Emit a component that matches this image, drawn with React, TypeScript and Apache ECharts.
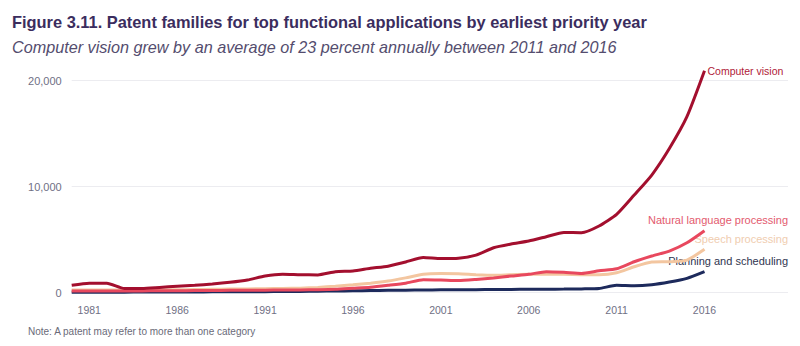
import React, { useEffect, useRef } from "react";
import * as echarts from "echarts";

const years: number[] = [];
for (let y = 1980; y <= 2016; y++) years.push(y);

const computerVision = [700, 900, 900, 400, 400, 500, 600, 700, 820, 980, 1200, 1580, 1750, 1700, 1680, 1980, 2050, 2300, 2500, 2900, 3320, 3220, 3250, 3550, 4240, 4590, 4870, 5280, 5690, 5660, 6290, 7390, 9210, 11100, 13600, 16600, 20930];
const nlp = [150, 150, 160, 160, 170, 180, 190, 200, 210, 220, 230, 240, 250, 260, 280, 320, 420, 520, 700, 900, 1230, 1200, 1150, 1250, 1390, 1575, 1730, 1980, 1920, 1820, 2070, 2260, 2920, 3460, 3930, 4710, 5850];
const speech = [250, 250, 250, 250, 260, 270, 280, 300, 320, 340, 360, 380, 400, 430, 500, 620, 750, 900, 1100, 1400, 1740, 1800, 1780, 1700, 1650, 1700, 1730, 1730, 1730, 1700, 1700, 1880, 2450, 2890, 2920, 3080, 4090];
const planning = [50, 50, 50, 50, 60, 60, 70, 70, 80, 80, 90, 100, 110, 120, 140, 160, 180, 200, 220, 240, 260, 270, 280, 290, 300, 310, 320, 330, 340, 360, 400, 700, 650, 750, 1000, 1350, 1980];

const seriesNames = ["Computer vision", "Natural language processing", "Speech processing", "Planning and scheduling"];
const yTicks = [0, 10000, 20000];

const FONT = "Liberation Sans, Arial, sans-serif";

export default function App() {
  const ref = useRef<HTMLDivElement>(null);
  useEffect(() => {
    if (!ref.current) return;
    const chart = echarts.init(ref.current, null, { renderer: "svg" });
    const pair = (arr: number[]) => arr.map((v, i) => [years[i], v]);
    const mk = (name: string, data: number[], color: string, z: number, extra: any = {}) => ({
      name,
      type: "line",
      data: pair(data),
      showSymbol: false,
      symbol: "none",
      smooth: 0.2,
      clip: false,
      z,
      lineStyle: { color, width: 3 },
      itemStyle: { color },
      ...extra,
    });
    chart.setOption({
      animation: false,
      textStyle: { fontFamily: FONT },
      grid: { left: 71.7, right: 12, top: 80.7, bottom: 53.3 },
      xAxis: {
        type: "value",
        min: 1980,
        max: 2020.75,
        interval: 1,
        axisLine: { show: false },
        axisTick: { show: false },
        splitLine: { show: false },
        axisLabel: {
          showMaxLabel: false,
          margin: 12,
          color: "#707085",
          fontSize: 10.5,
          fontFamily: FONT,
          formatter: (v: number) => ((v - 1981) % 5 === 0 && v <= 2016 ? String(v) : ""),
        },
      },
      yAxis: {
        type: "value",
        min: yTicks[0],
        max: yTicks[yTicks.length - 1],
        interval: 10000,
        axisLine: { show: false },
        axisTick: { show: false },
        splitLine: { lineStyle: { color: "#ececf0", width: 1 } },
        axisLabel: {
          margin: 10,
          color: "#707085",
          fontSize: 11,
          fontFamily: FONT,
          formatter: (v: number) => v.toLocaleString("en-US"),
        },
      },
      series: [
        mk(seriesNames[3], planning, "#1d2a5c", 2),
        mk(seriesNames[2], speech, "#f3c6a0", 3),
        mk(seriesNames[1], nlp, "#e8485e", 4),
        mk(seriesNames[0], computerVision, "#a30f2e", 5, {
          endLabel: {
            show: true,
            formatter: seriesNames[0],
            color: "#b01a38",
            fontSize: 10.5,
            fontFamily: FONT,
            distance: 3,
          },
        }),
      ],
      graphic: [
        {
          type: "text",
          left: 12,
          top: 14,
          style: {
            text: "Figure 3.11. Patent families for top functional applications by earliest priority year",
            fill: "#3b2d5e",
            font: `bold 16.4px ${FONT}`,
          },
        },
        {
          type: "text",
          left: 12,
          top: 39,
          style: {
            text: "Computer vision grew by an average of 23 percent annually between 2011 and 2016",
            fill: "#544d6e",
            font: `italic 16.2px ${FONT}`,
          },
        },
        {
          type: "text",
          right: 12,
          top: 214,
          style: { text: seriesNames[1], fill: "#e35a6e", font: `11px ${FONT}` },
        },
        {
          type: "text",
          right: 12,
          top: 233,
          style: { text: seriesNames[2], fill: "#f0cdb0", font: `11px ${FONT}` },
        },
        {
          type: "text",
          right: 12,
          top: 255,
          style: { text: seriesNames[3], fill: "#2f3550", font: `11px ${FONT}` },
        },
        {
          type: "text",
          left: 28,
          top: 326,
          style: { text: "Note: A patent may refer to more than one category", fill: "#6a6a78", font: `10px ${FONT}` },
        },
      ],
    });
    return () => chart.dispose();
  }, []);
  return <div ref={ref} style={{ width: 800, height: 346, position: "absolute", left: 0, top: 0, background: "#fff" }} />;
}
